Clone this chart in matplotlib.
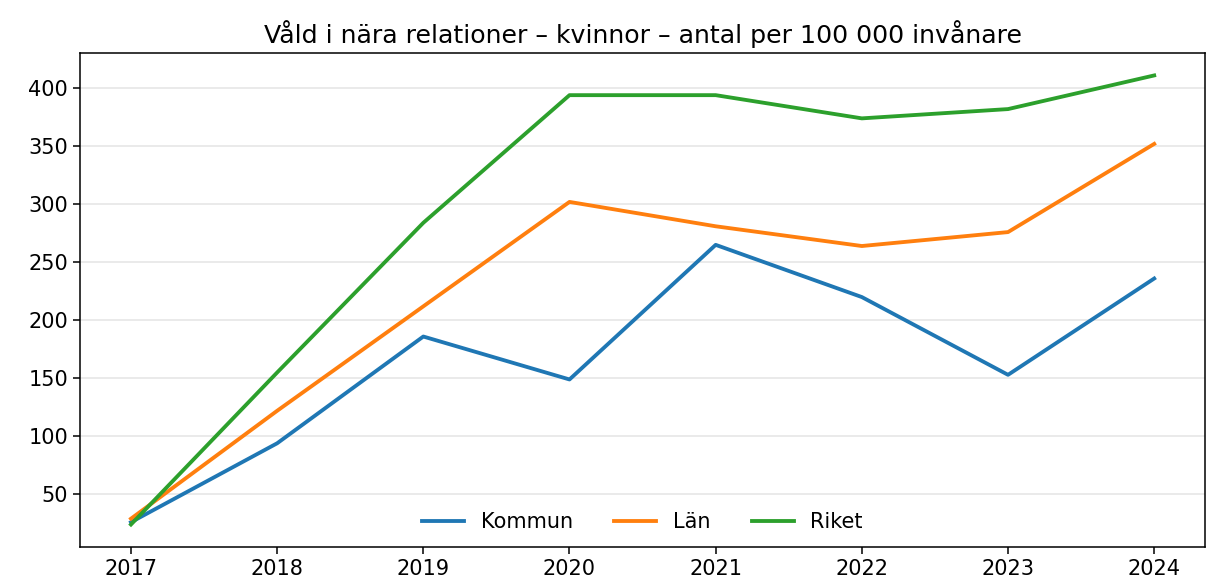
import matplotlib
matplotlib.use("Agg")
import matplotlib.pyplot as plt

years = [2017, 2018, 2019, 2020, 2021, 2022, 2023, 2024]
kommun = [26, 94, 186, 149, 265, 220, 153, 236]
lan = [29, 122, 212, 302, 281, 264, 276, 352]
riket = [24, 155, 284, 394, 394, 374, 382, 411]
yticks = [50, 100, 150, 200, 250, 300, 350, 400]
title = "Våld i nära relationer – kvinnor – antal per 100 000 invånare"

S = 1.38
fig = plt.figure(figsize=(12.09, 5.86), dpi=100)
ax = fig.add_axes([0.066, 0.0666, 0.931, 0.843])

ax.plot(years, kommun, color="#1f77b4", lw=2 * S, label="Kommun")
ax.plot(years, lan, color="#ff7f0e", lw=2 * S, label="Län")
ax.plot(years, riket, color="#2ca02c", lw=2 * S, label="Riket")

ax.set_xticks(years)
ax.set_yticks(yticks)
ax.tick_params(labelsize=15, width=0.8 * S, length=3.5 * S)
for s in ax.spines.values():
    s.set_linewidth(0.8 * S)
ax.grid(axis="y", color="#dddddd", lw=0.8 * S, alpha=0.8)
ax.set_axisbelow(True)
ax.set_title(title, fontsize=18.2, pad=7)
ax.legend(loc="lower center", ncol=3, frameon=False, fontsize=15,
          borderaxespad=0.3)

fig.savefig("out.png", dpi=100)
